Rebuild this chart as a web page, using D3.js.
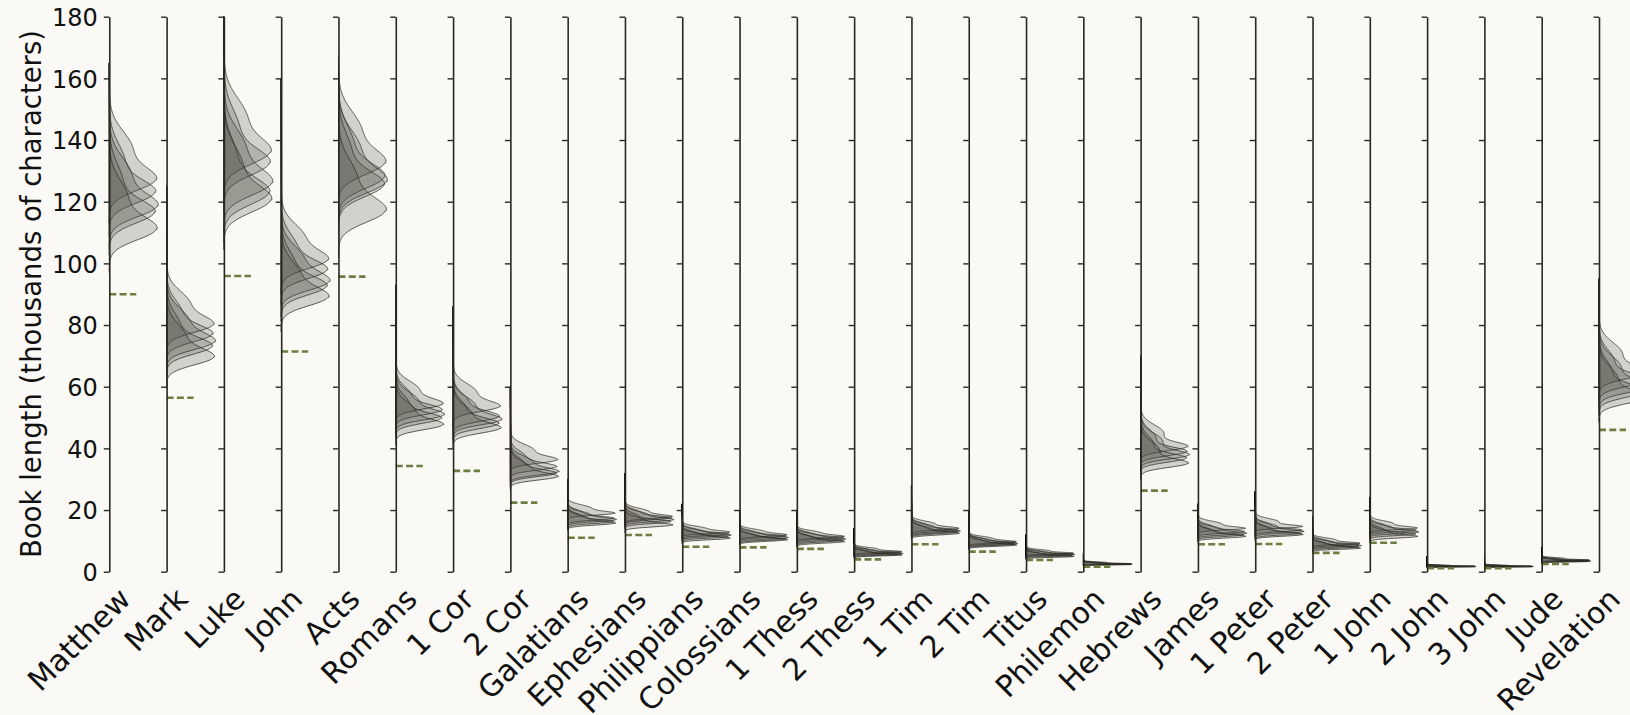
<!DOCTYPE html>
<html><head><meta charset="utf-8">
<script src="https://cdn.jsdelivr.net/npm/d3@7"></script>
<style>html,body{margin:0;padding:0;background:#faf9f5;} svg{display:block;font-family:"DejaVu Sans",sans-serif;}</style>
</head><body><svg id="c" width="1630" height="715"></svg>
<script>
const books = ["Matthew","Mark","Luke","John","Acts","Romans","1 Cor","2 Cor","Galatians","Ephesians","Philippians","Colossians","1 Thess","2 Thess","1 Tim","2 Tim","Titus","Philemon","Hebrews","James","1 Peter","2 Peter","1 John","2 John","3 John","Jude","Revelation"];

// modes of the five estimated length distributions per book (thousands of characters)
const modes = [
  [127, 123, 118.5, 116.5, 111],
  [80, 77, 74.5, 73, 69.5],
  [136, 132.5, 126, 123, 120.5],
  [101, 97.8, 94, 92.5, 89],
  [132.5, 128, 126.5, 125.4, 117],
  [54.3, 52.4, 50.8, 49.7, 47.6],
  [53.5, 50.3, 49.2, 48, 46.5],
  [36.2, 34, 32.4, 31.9, 30.8],
  [18.9, 17.3, 16.8, 16.2, 15.7],
  [17.8, 17.4, 16.8, 16.2, 15.1],
  [12.8, 12.2, 11.8, 11.3, 10.8],
  [11.9, 11.5, 11.0, 10.6, 10.3],
  [11.4, 11.0, 10.5, 10.1, 9.7],
  [6.5, 6.2, 5.9, 5.6, 5.4],
  [14.0, 13.5, 13.1, 12.8, 12.4],
  [9.7, 9.4, 9.1, 8.9, 8.6],
  [6.0, 5.7, 5.5, 5.2, 4.9],
  [2.6, 2.5, 2.45, 2.4, 2.3],
  [40.5, 38.9, 37.8, 36.8, 35.1],
  [14.0, 13.0, 12.4, 11.9, 11.4],
  [14.6, 13.5, 13.0, 12.4, 12.0],
  [9.2, 8.8, 8.4, 8.0, 7.6],
  [14.1, 13.4, 12.8, 12.2, 11.4],
  [1.8, 1.75, 1.7, 1.65, 1.6],
  [1.8, 1.75, 1.7, 1.65, 1.6],
  [3.8, 3.65, 3.5, 3.4, 3.3],
  [64.5, 62, 60, 58.5, 56.5]
];
// spread of the main peak, and spread of the upper shoulder, per book
const spreadLow  = [3.5, 2.5, 4, 2.8, 3.8, 1.6, 1.6, 1.1, 0.6, 0.6, 0.45, 0.45, 0.45, 0.28, 0.5, 0.38, 0.25, 0.12, 1.3, 0.5, 0.5, 0.35, 0.5, 0.07, 0.07, 0.15, 2.0];
const spreadHigh = [7.4, 5.1, 8.2, 5.5, 7.8, 3.5, 3.5, 2.4, 1.3, 1.3, 0.92, 0.92, 0.92, 0.65, 1.12, 0.82, 0.56, 0.28, 3.3, 1.12, 1.22, 0.82, 1.12, 0.18, 0.18, 0.37, 4.6];
// highest value reached by the thin upper tail
const tailTop = [165, 125, 180, 160, 158, 93, 86, 60, 30, 32, 22, 20, 20, 14, 28, 20, 12, 6, 70, 22, 26, 18, 24, 5, 5, 8, 95];
// relative peak width and shoulder strength of the five curves
const peaks = [0.97, 0.95, 1.0, 0.94, 0.98];
const shoulder = [0.55, 0.35, 0.5, 0.3, 0.42];
// reference book length (dashed marker)
const reference = [90.0, 56.4, 95.9, 71.4, 95.7, 34.3, 32.7, 22.4, 11.0, 11.9, 8.1, 7.9, 7.4, 4.0, 8.9, 6.5, 3.8, 1.6, 26.3, 8.9, 9.0, 6.1, 9.4, 1.1, 1.1, 2.5, 46.0];
const yTicks = [0, 20, 40, 60, 80, 100, 120, 140, 160, 180];

const W = 1630, H = 715;
const svg = d3.select("#c");
svg.append("rect").attr("width", W).attr("height", H).attr("fill", "#faf9f5");

const y = d3.scaleLinear().domain([0, 180]).range([571.7, 16.7]);
const xPos = d3.scalePoint().domain(books).range([109.3, 1599]);
const w = d3.scaleLinear().domain([0, 1]).range([0, 48]);

function shape(v, m, sl, sh, A) {
  const core = v < m ? Math.exp(-0.5 * ((m - v) / sl) ** 2) : Math.exp(-0.5 * ((v - m) / (1.1 * sl)) ** 2);
  const sho = A * Math.exp(-0.5 * ((v - m - 1.35 * sh) / (0.8 * sh)) ** 2);
  return core + sho;
}

books.forEach((b, i) => {
  const x0 = xPos(b);
  const g = svg.append("g");
  modes[i].forEach((m, k) => {
    const sl = spreadLow[i], sh = spreadHigh[i], top = tailTop[i], A = shoulder[k];
    const lo = Math.max(0, m - 4 * sl), hi = Math.max(top, m + 4.5 * sh);
    const n = 600;
    const vs = d3.range(n + 1).map(j => lo + (hi - lo) * j / n);
    const raw = vs.map(v => shape(v, m, sl, sh, A));
    const mx = d3.max(raw);
    const pts = vs.map((v, j) => ({
      v,
      d: peaks[k] * raw[j] / mx + (v > m ? 0.02 * Math.exp(-(v - m) / ((top - m) / 3)) : 0)
    }));
    const area = d3.area().y(d => y(d.v)).x0(x0).x1(d => x0 + w(d.d)).curve(d3.curveLinear);
    g.append("path").attr("d", area(pts))
      .attr("fill", "#46443c").attr("fill-opacity", 0.22)
      .attr("stroke", "#2e2c25").attr("stroke-opacity", 0.8).attr("stroke-width", 1);
  });
  // reference marker
  svg.append("line")
    .attr("x1", x0).attr("x2", x0 + 27)
    .attr("y1", y(reference[i])).attr("y2", y(reference[i]))
    .attr("stroke", "#6c7d40").attr("stroke-width", 2.6).attr("stroke-dasharray", "7,3.3");
  // axis
  const ax = d3.axisLeft(y).tickValues(yTicks).tickSize(5.5).tickSizeOuter(0).tickPadding(6)
    .tickFormat(i === 0 ? d3.format("d") : () => "");
  const ag = svg.append("g").attr("transform", `translate(${x0},0)`).call(ax);
  ag.attr("font-size", 24).attr("font-family", "DejaVu Sans, sans-serif");
  ag.select(".domain").attr("stroke", "#2a2822").attr("stroke-width", 1.6);
  ag.selectAll(".tick line").attr("stroke", "#2a2822").attr("stroke-width", 1.4);
  ag.selectAll(".tick text").attr("fill", "#111").attr("dy", "0.36em");
  // category label
  svg.append("text")
    .attr("transform", `translate(${x0 + 23},601) rotate(-45)`)
    .attr("text-anchor", "end").attr("font-size", 30).attr("fill", "#111")
    .text(b);
});

svg.append("text")
  .attr("transform", "translate(31,294) rotate(-90)")
  .attr("text-anchor", "middle").attr("dominant-baseline", "central")
  .attr("font-size", 27.5).attr("fill", "#111")
  .text("Book length (thousands of characters)");
</script></body></html>
